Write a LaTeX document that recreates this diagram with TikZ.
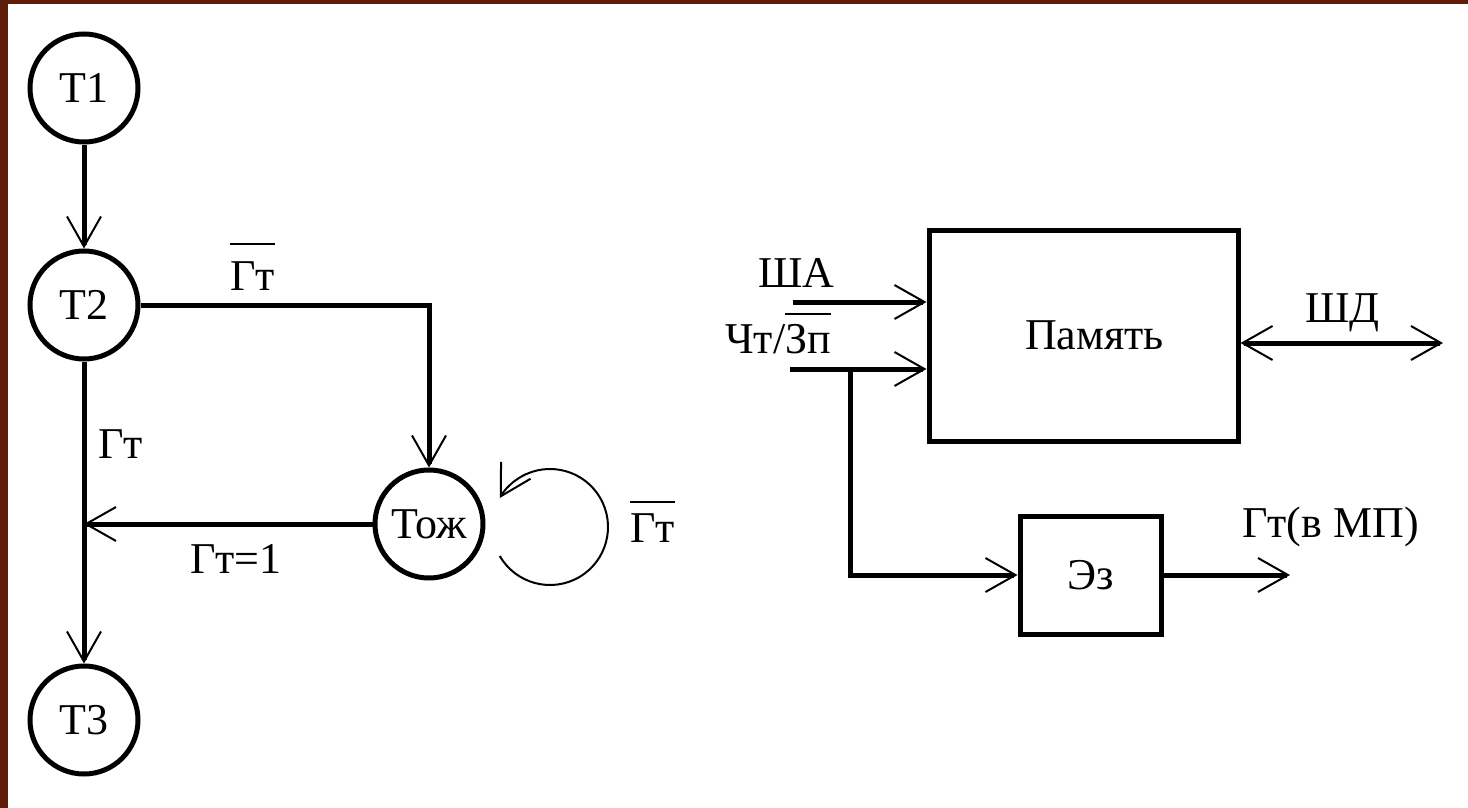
\documentclass[tikz,border=0pt]{standalone}
\usepackage{fontspec}
\setmainfont{Liberation Serif}
\usetikzlibrary{arrows.meta}
\definecolor{framecol}{RGB}{95,28,8}
\newcommand\ovl[2][16pt]{\vbox{\hrule height 2pt\kern#1\hbox{#2}}}
\begin{document}
\begin{tikzpicture}[x=1pt,y=-1pt,
  font=\fontsize{44}{50}\selectfont,
  state/.style={circle, draw, line width=5pt, minimum size=108pt, inner sep=0pt},
  blk/.style={rectangle, draw, line width=5pt, inner sep=0pt},
  wire/.style={line width=5pt},
  thinwire/.style={line width=2pt},
  barb/.tip={Straight Barb[length=30pt,width=34pt,line width=2pt 0]},
  arr/.style={-barb},
  arrboth/.style={barb-barb},
  lbl/.style={anchor=base west, inner sep=0pt}]
\fill[white] (0,0) rectangle (1468,808);
\useasboundingbox (0,0) rectangle (1468,808);
\fill[framecol] (0,0) rectangle (8,808);
\fill[framecol] (0,0) rectangle (1468,4);

% states
\node[state] (T1) at (84,88) {Т1};
\node[state] (T2) at (84,305) {Т2};
\node[state] (T3) at (84,720) {Т3};
\node[state] (Tzh) at (429,524) {Тож};

% blocks
\node[blk, minimum width=309pt, minimum height=211pt, text width=290pt, align=center] (Mem) at (1083.5,335.5) {\hspace*{22pt}Память};
\node[blk, minimum width=141pt, minimum height=118pt] (Ez) at (1090.5,575) {Эз};

% coordinates
\coordinate (J) at (84,524);
\coordinate (ShA) at (793,302);
\coordinate (RW) at (790,369);
\coordinate (Br) at (850,369);
\coordinate (ShD) at (1443,343);
\coordinate (Out) at (1290,575);
\coordinate (L) at (550,527);

% left graph
\draw[wire,arr] (T1) -- (T2);
\draw[wire,arr] (T2) -- (T3);
\draw[wire,arr] (T2.east) -| (Tzh.north);
\draw[wire,arr] (Tzh.west) -- (J);
\draw[thinwire,arr] ([shift={(210:58pt)}]L) arc[start angle=210,end angle=510,radius=58pt];

% right diagram
\draw[wire,arr] (ShA) -- (ShA -| Mem.west);
\draw[wire,arr] (RW) -- (RW -| Mem.west);
\draw[wire,arr] (Br) |- (Ez.west);
\draw[wire,arr] (Ez.east) -- (Out);
\draw[wire,arrboth] (Mem.east |- ShD) -- (ShD);

% labels
\node[lbl] (l1) at (230,290) {\ovl{Гт}};
\node[lbl] (l2) at (98,458) {Гт};
\node[lbl] (l3) at (190,573) {Гт=1};
\node[lbl] (l4) at (630,542) {\ovl[10pt]{Гт}};
\node[lbl] (l5) at (758,287) {ША};
\node[lbl] (l6) at (725,353) {Чт/\ovl[9pt]{Зп}};
\node[lbl] (l7) at (1305,322) {ШД};
\node[lbl] (l8) at (1242,537) {Гт(в МП)};
\end{tikzpicture}
\end{document}
